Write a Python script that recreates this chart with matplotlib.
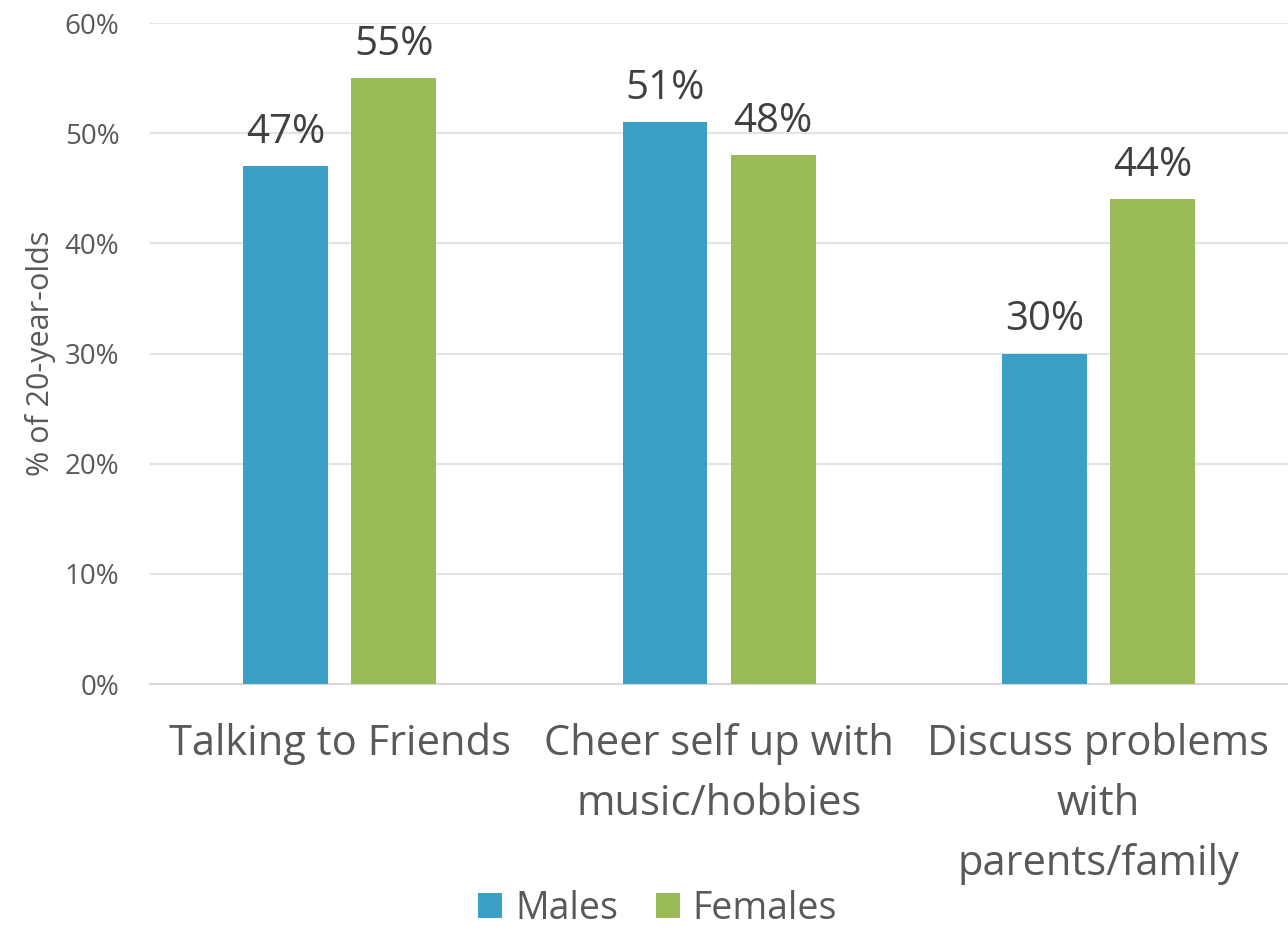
import matplotlib.pyplot as plt
import numpy as np
from matplotlib.ticker import PercentFormatter

plt.rcParams['font.family'] = ['Open Sans', 'DejaVu Sans']

categories = ["Talking to Friends", "Cheer self up with\nmusic/hobbies",
              "Discuss problems\nwith\nparents/family"]
series = ["Males", "Females"]
males = [47, 51, 30]
females = [55, 48, 44]
colors = ["#3c9fc6", "#9bbb59"]

fig = plt.figure(figsize=(12.88, 9.36), dpi=100)
ax = fig.add_axes([0.1165, 0.2692, 0.8835, 0.7062])

x = np.arange(len(categories))
w = 0.224
off = 0.1424
for vals, dx, c, name in [(males, -off, colors[0], series[0]),
                          (females, off, colors[1], series[1])]:
    bars = ax.bar(x + dx, vals, width=w, color=c, label=name, zorder=3)
    for b, v in zip(bars, vals):
        ax.text(b.get_x() + b.get_width() / 2, v + 1.2, f"{v}%",
                ha="center", va="bottom", fontsize=29, color="#404040")

ax.set_xlim(-0.5, 2.5)
ax.set_ylim(0, 60)
ax.set_yticks(range(0, 61, 10))
ax.yaxis.set_major_formatter(PercentFormatter(decimals=0))
ax.grid(axis="y", color="#e3e3e3", linewidth=1.5, zorder=0)
for s in ["top", "right", "left"]:
    ax.spines[s].set_visible(False)
ax.spines["bottom"].set_color("#d9d9d9")
ax.spines["bottom"].set_linewidth(1.5)
ax.tick_params(axis="both", length=0)
ax.tick_params(axis="y", labelsize=20, labelcolor="#595959", pad=22)
ax.set_xticks(x)
ax.set_xticklabels(categories, fontsize=30, color="#595959", linespacing=1.55)
ax.tick_params(axis="x", pad=28)
ax.set_ylabel("% of 20-year-olds", fontsize=22, color="#595959", labelpad=6)

ax.legend(loc="center", bbox_to_anchor=(0.446, -0.340), ncol=2,
          frameon=False, fontsize=27, labelcolor="#595959",
          handlelength=0.64, handleheight=0.64, handletextpad=0.35,
          columnspacing=1.0, borderpad=0.1)

fig.savefig("out.png", dpi=100)
